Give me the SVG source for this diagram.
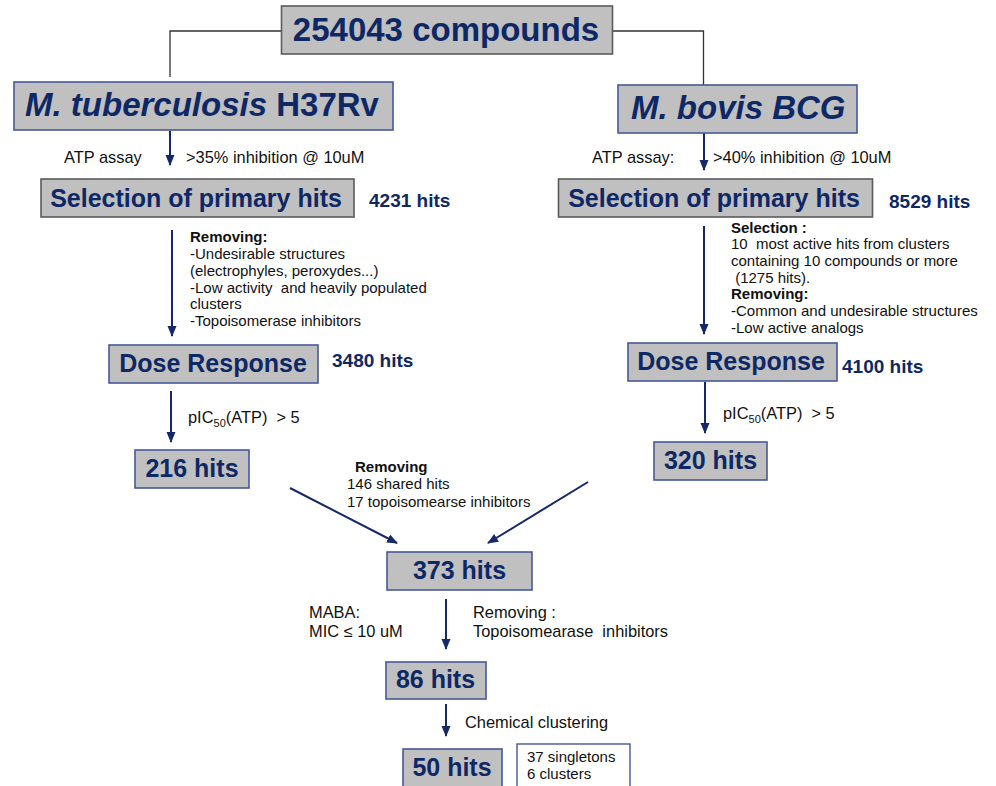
<svg xmlns="http://www.w3.org/2000/svg" width="996" height="786" viewBox="0 0 996 786">
<style>
text{font-family:"Liberation Sans",Arial,sans-serif}
.box{fill:#c0c0c0;stroke:#46589a;stroke-width:1.6}
.gbox{fill:#c0c0c0;stroke:#5a5a5a;stroke-width:1.6}
.t33{font-size:33px;font-weight:bold;fill:#0e2866}
.t25{font-size:25px;font-weight:bold;fill:#0e2866}
.t19{font-size:19px;font-weight:bold;fill:#0e2866}
.s15{font-size:15px;fill:#111}
.s16{font-size:16.4px;fill:#111}
.b{font-weight:bold}
.arr{stroke:#14286a;stroke-width:2;fill:none;marker-end:url(#ah)}
.con{stroke:#333;stroke-width:1.3;fill:none}
</style>
<defs>
<marker id="ah" markerUnits="userSpaceOnUse" markerWidth="12" markerHeight="12" viewBox="0 0 12 12" refX="10" refY="6" orient="auto">
<path d="M0,1.5 L11,6 L0,10.5 Z" fill="#14286a"/>
</marker>
</defs>
<g id="connectors">
<path class="con" d="M281,31 H170 V77"/>
<path class="con" d="M613,31 H703.5 V85"/>
<line class="arr" x1="170" y1="131" x2="170" y2="165"/>
<line class="arr" x1="704" y1="133" x2="704" y2="170"/>
<line class="arr" x1="172" y1="230" x2="172" y2="336"/>
<line class="arr" x1="704" y1="226" x2="704" y2="334"/>
<line class="arr" x1="171" y1="391" x2="171" y2="442"/>
<line class="arr" x1="705" y1="382" x2="705" y2="433"/>
<line class="arr" x1="290" y1="488" x2="397" y2="543"/>
<line class="arr" x1="588" y1="482" x2="488" y2="543"/>
<line class="arr" x1="446" y1="599" x2="446" y2="649"/>
<line class="arr" x1="446" y1="704" x2="446" y2="736"/>
</g>
<g id="n-top">
<rect class="gbox" x="281.5" y="6" width="331" height="48"/>
<text class="t33" x="446" y="41" text-anchor="middle">254043 compounds</text>
</g>
<g id="n-mtb">
<rect class="box" x="14" y="82" width="379" height="48"/>
<text class="t33" x="25" y="116"><tspan font-style="italic">M. tuberculosis</tspan> H37Rv</text>
</g>
<g id="n-bovis">
<rect class="box" x="618" y="85" width="239" height="48"/>
<text class="t33" x="631" y="119" font-style="italic">M. bovis BCG</text>
</g>
<g id="l-atp-left">
<text class="s16" x="64" y="163">ATP assay</text>
<text class="s16" x="186" y="163">&gt;35% inhibition @ 10uM</text>
</g>
<g id="l-atp-right">
<text class="s16" x="592" y="163">ATP assay:</text>
<text class="s16" x="713" y="163">&gt;40% inhibition @ 10uM</text>
</g>
<g id="n-sel-left">
<rect class="gbox" x="41" y="179" width="313" height="38"/>
<text class="t25" x="196" y="207" text-anchor="middle">Selection of primary hits</text>
<text class="t19" x="369" y="207">4231 hits</text>
</g>
<g id="n-sel-right">
<rect class="gbox" x="558.5" y="179" width="314" height="38"/>
<text class="t25" x="714" y="207" text-anchor="middle">Selection of primary hits</text>
<text class="t19" x="889" y="208">8529 hits</text>
</g>
<g id="l-remove-left">
<text class="s15" xml:space="preserve"><tspan class="b" x="190" y="242">Removing:</tspan><tspan x="190" y="259">-Undesirable structures</tspan><tspan x="190" y="276">(electrophyles, peroxydes...)</tspan><tspan x="190" y="293">-Low activity  and heavily populated</tspan><tspan x="190" y="309">clusters</tspan><tspan x="190" y="326">-Topoisomerase inhibitors</tspan></text>
</g>
<g id="l-remove-right">
<text class="s15" xml:space="preserve"><tspan class="b" x="731" y="233">Selection :</tspan><tspan x="731" y="249">10  most active hits from clusters</tspan><tspan x="731" y="266">containing 10 compounds or more</tspan><tspan x="731" y="283"> (1275 hits).</tspan><tspan class="b" x="731" y="299">Removing:</tspan><tspan x="731" y="316">-Common and undesirable structures</tspan><tspan x="731" y="333">-Low active analogs</tspan></text>
</g>
<g id="n-dose-left">
<rect class="box" x="109" y="345" width="209" height="38"/>
<text class="t25" x="213" y="372" text-anchor="middle">Dose Response</text>
<text class="t19" x="332" y="367">3480 hits</text>
</g>
<g id="n-dose-right">
<rect class="box" x="628" y="343" width="209" height="38"/>
<text class="t25" x="731" y="370" text-anchor="middle">Dose Response</text>
<text class="t19" x="842" y="373">4100 hits</text>
</g>
<g id="l-pic-left">
<text class="s16" x="188" y="423" xml:space="preserve">pIC<tspan font-size="11" dy="4">50</tspan><tspan dy="-4">(ATP)  &gt; 5</tspan></text>
</g>
<g id="l-pic-right">
<text class="s16" x="723" y="419" xml:space="preserve">pIC<tspan font-size="11" dy="4">50</tspan><tspan dy="-4">(ATP)  &gt; 5</tspan></text>
</g>
<g id="n-216">
<rect class="box" x="135" y="450" width="114" height="38"/>
<text class="t25" x="192" y="477" text-anchor="middle">216 hits</text>
</g>
<g id="n-320">
<rect class="box" x="654" y="442" width="113" height="38"/>
<text class="t25" x="710.5" y="469" text-anchor="middle">320 hits</text>
</g>
<g id="l-shared">
<text class="s15"><tspan class="b" x="355" y="472">Removing</tspan><tspan x="347" y="489">146 shared hits</tspan><tspan x="347" y="507">17 topoisomearse inhibitors</tspan></text>
</g>
<g id="n-373">
<rect class="box" x="387" y="552" width="145" height="38"/>
<text class="t25" x="459.5" y="579" text-anchor="middle">373 hits</text>
</g>
<g id="l-maba">
<text class="s16" xml:space="preserve"><tspan x="309" y="618">MABA:</tspan><tspan x="309" y="637">MIC ≤ 10 uM</tspan><tspan x="473" y="618">Removing :</tspan><tspan x="473" y="637">Topoisomearase  inhibitors</tspan></text>
</g>
<g id="n-86">
<rect class="box" x="386" y="662" width="100" height="37"/>
<text class="t25" x="435.5" y="688" text-anchor="middle">86 hits</text>
</g>
<g id="l-clust">
<text class="s16" x="465" y="728">Chemical clustering</text>
</g>
<g id="n-50">
<rect class="box" x="403" y="749" width="99" height="45"/>
<text class="t25" x="452" y="776" text-anchor="middle">50 hits</text>
</g>
<g id="n-detail">
<rect x="517" y="744" width="113" height="50" fill="#fff" stroke="#46589a" stroke-width="1.4"/>
<text class="s15"><tspan x="527" y="762">37 singletons</tspan><tspan x="527" y="779">6 clusters</tspan></text>
</g>
</svg>
